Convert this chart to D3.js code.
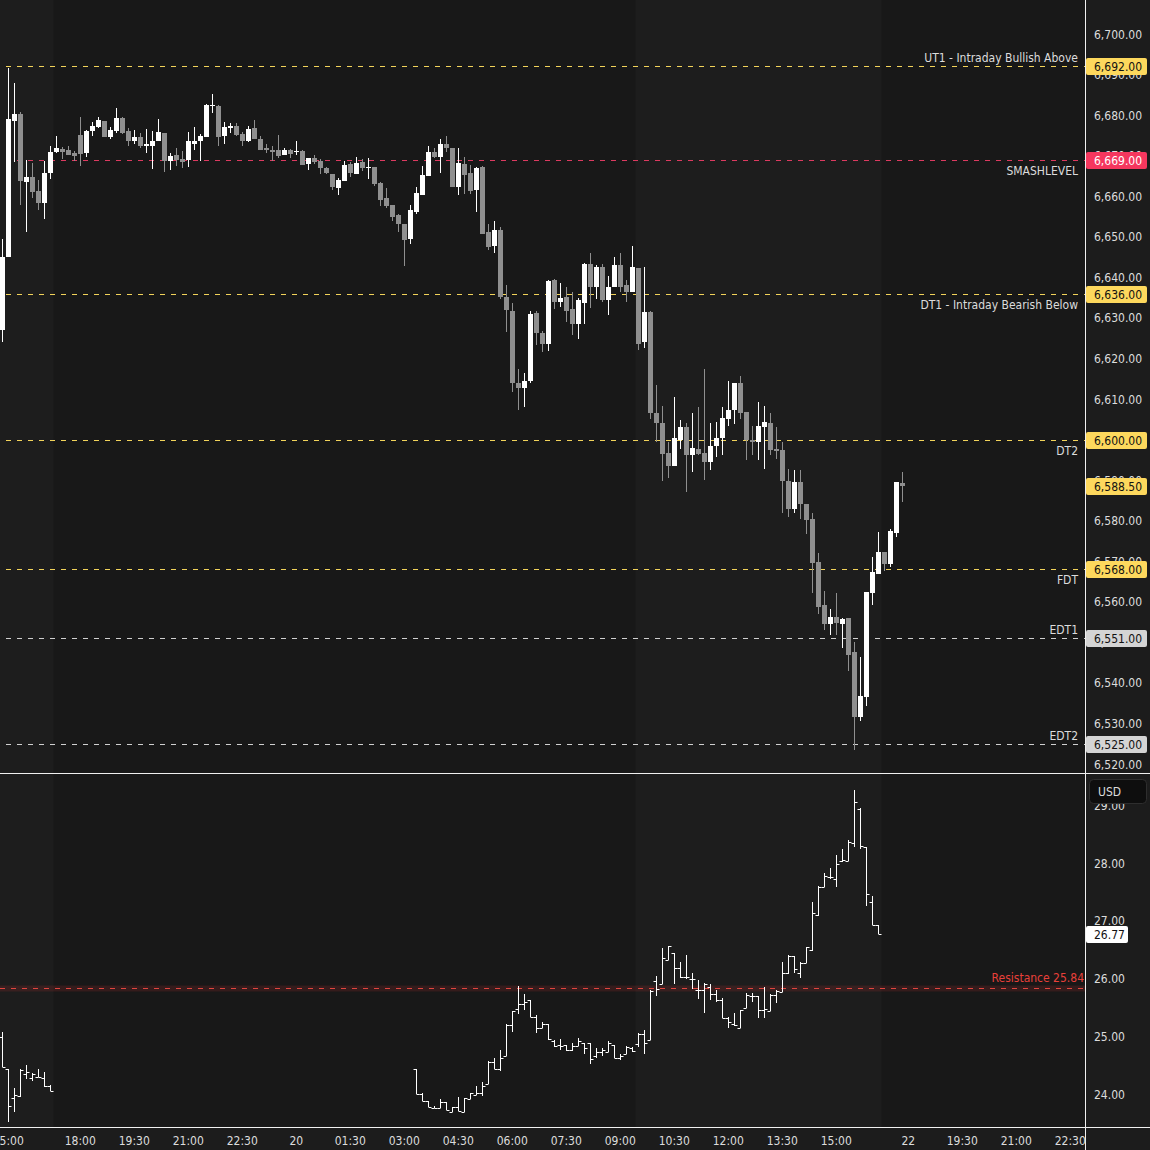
<!DOCTYPE html>
<html><head><meta charset="utf-8">
<script src="https://cdn.jsdelivr.net/npm/d3@7"></script>
<style>html,body{margin:0;padding:0;background:#1c1c1c;}svg{display:block;}</style>
</head><body>
<svg id="c" width="1150" height="1150"></svg>
<script>
// ---------- DATA ----------
const mainOpen=[6627,6645,6678.5,6680.25,6663.5,6664.75,6661.25,6658.25,6665.75,6671,6671.75,6671.5,6670.75,6675,6670.75,6676,6677,6678.5,6674.5,6676,6679.25,6676,6673.5,6674.5,6672.5,6672.5,6673.5,6675.5,6668.75,6670.25,6669.25,6669,6673,6673.5,6674.5,6682.25,6682.25,6674.75,6676.75,6677.25,6675.25,6673.5,6676.75,6674,6672,6671.5,6671.5,6670.25,6671.5,6671,6671.25,6668,6669.5,6668.75,6667,6665.5,6662,6663.75,6668,6665.5,6668.5,6667,6667.25,6663.25,6659.5,6657.75,6655.25,6653.25,6649.5,6656,6660.25,6665,6671,6669.75,6673,6672,6662.25,6668,6665.75,6661.5,6667.25,6651.25,6647.75,6651.75,6635.25,6631.75,6614,6612.75,6614.5,6631.25,6626.25,6623.5,6639.25,6634,6635.25,6632.25,6628.5,6633.75,6643.25,6637.5,6642.5,6634.5,6637.5,6643,6638,6636.5,6642.25,6624,6631.5,6606.5,6604,6596.75,6593.5,6600,6603,6596.25,6597.75,6596.75,6594.5,6598.5,6600.5,6605,6607.25,6614,6606.75,6600,6599.5,6603,6604,6597.75,6597.5,6589.75,6583,6589.5,6584,6580.5,6569.75,6559.25,6554.5,6556.25,6554.5,6556,6547.5,6531.5,6536.5,6562.25,6566.75,6572.25,6569.25,6577,6589.25];
const mainHigh=[6649.5,6691.5,6688,6680.75,6669,6668.25,6664,6668.75,6672.5,6674.75,6672.25,6672.5,6671.25,6679.5,6676.25,6678.25,6679.5,6678.5,6677,6681.75,6679.5,6676.75,6676.25,6675.5,6676.5,6676,6679,6675.5,6670.75,6672,6671.25,6675.75,6677,6675.25,6682.75,6685.25,6682.5,6678.25,6678,6678,6675.75,6677.25,6678.75,6674.75,6673,6672.5,6675,6672,6671.75,6673.5,6671.5,6669.5,6670.25,6669.25,6667.25,6665.5,6664.5,6668.75,6668.5,6669.75,6669.25,6669.5,6667.25,6663.5,6662,6657.75,6655.5,6653.25,6657.75,6662.25,6667.5,6672.5,6672,6674,6674.75,6672,6672,6669.75,6667.75,6667.25,6667.5,6653.25,6654,6652.5,6638,6633.75,6617.5,6616.5,6631.75,6631.75,6626.75,6639.25,6639.5,6638.5,6637.5,6636.5,6635,6643.5,6646,6643,6643.25,6640.25,6645,6646,6639.25,6647.75,6642.25,6642.5,6631.75,6613.5,6608.25,6599.5,6610.5,6604.75,6604,6606.5,6608,6617.5,6604,6604.25,6608,6614.5,6614,6615.75,6606.75,6603.25,6609.25,6608.25,6606.5,6603,6599.5,6592.75,6592.5,6592.5,6584,6582,6572,6562.75,6558.25,6562.25,6556,6556,6550,6546.5,6562.5,6571,6577.25,6572.25,6578,6589.5,6592];
const mainLow=[6624,6645,6668.5,6657.75,6651.25,6659.5,6656.5,6654.5,6664.25,6670.75,6669.25,6670.25,6668.75,6667.5,6669.75,6674.75,6676.75,6674.5,6674,6675.5,6675.25,6672.5,6673,6672,6670.75,6666.75,6673.5,6666,6666.5,6667.5,6667,6667.25,6671.5,6668.75,6674.5,6680.5,6672.5,6673,6675.5,6674.75,6672.5,6673.25,6674,6671.5,6670.75,6668.75,6669.5,6670.25,6669.5,6670.25,6667.75,6666.5,6668,6665.5,6665.5,6661.5,6660.25,6663.75,6664.75,6665.5,6666.25,6664.25,6662.5,6657.5,6657,6654,6651.25,6642.75,6648.25,6655.5,6660.25,6665,6669.5,6665.75,6671,6662.25,6660.25,6660.5,6660.5,6656,6650.75,6646.75,6646,6634.75,6626.5,6611.75,6607.25,6608,6614,6623.25,6621.5,6621.75,6632.25,6632.75,6629,6625.75,6624.75,6628.5,6632.5,6634.75,6634,6630.75,6637.5,6636.5,6634,6636.5,6622,6622.5,6605,6599.5,6589.75,6590.5,6593.5,6597.75,6587,6592,6596.25,6590,6592.5,6595.75,6596.25,6603.25,6603.75,6605,6595,6596.25,6595,6592.75,6596.25,6595.25,6582,6581,6582,6580.5,6576.75,6562.25,6557,6553,6551.75,6551.75,6548.5,6543,6523.5,6530.5,6534.25,6559.25,6566.75,6567.5,6568.5,6576,6584.5];
const mainClose=[6645,6679,6680.25,6663.75,6664.75,6661,6658.25,6665.75,6671,6672,6671,6670.25,6670,6670.5,6676,6677.25,6678.75,6674.5,6676.25,6679.25,6675.5,6673.5,6674.5,6672.5,6673,6673.5,6675.75,6668.75,6670,6669,6668.5,6673.5,6673.5,6674.75,6682.5,6682.5,6674.5,6677,6677.25,6675,6673.5,6676.5,6674,6671.5,6671.5,6671,6670,6671.5,6670.5,6671.25,6667.75,6669.5,6668.5,6667,6665.75,6662.25,6664,6667.75,6665.75,6668.25,6667,6667.25,6663,6659,6657.5,6655,6653.25,6649.25,6656.5,6660.75,6665.25,6671,6669.75,6673,6672,6662.25,6668.25,6665.25,6661.25,6667,6650.75,6647.5,6651.75,6635.25,6632,6614,6612.75,6614.5,6631,6626.25,6623.5,6639,6634,6635,6631.75,6628.5,6634.5,6643.25,6637.5,6642.5,6634.5,6637.5,6643,6637.5,6636.5,6642.5,6623.5,6631.5,6606.5,6604,6596.5,6593.5,6600.5,6603,6596.25,6598,6596.5,6594.5,6598.5,6600.5,6605.25,6607.25,6614,6606.5,6600,6599.5,6603.25,6604.25,6597.5,6597.25,6589.75,6583,6589.5,6584,6580.25,6569.5,6558.75,6554.5,6556.25,6554.75,6555.75,6547,6531.5,6536.75,6562.5,6567.25,6572.25,6569.25,6577.5,6589.5,6588.5];

const vixOpen=[24.98,24.44,23.93,23.96,24.35,24.27,24.29,24.27,24.14, 24.44,24.00,23.88,23.76,23.76,23.86,23.68,23.78,23.68,23.91,23.98,24.01,24.17,24.56,24.44,24.65,25.19,25.47,25.56,25.62,25.34,25.14,25.22,24.92,24.85,24.84,24.76,24.83,24.88,24.89,24.65,24.73,24.72,24.85,24.63,24.70,24.80,24.86,25.04,24.93,25.96,25.90,26.32,26.45,26.19,26.02,25.99,25.80,25.80,25.86,25.74,25.63,25.32,25.22,25.15,25.49,25.69,25.69,25.45,25.44,25.72,25.76,26.10,26.39,26.10,26.27,26.49,27.10,27.59,27.76,27.72,28.04,28.03,28.35,28.93,28.27,27.33,26.93];
const vixHigh=[25.07,24.44,24.10,24.44,24.50,24.37,24.43,24.38,24.15, 24.44,24.01,23.88,23.79,23.91,23.86,23.78,23.94,23.93,24.01,24.14,24.20,24.57,24.63,24.77,25.21,25.44,25.87,25.73,25.63,25.36,25.25,25.22,24.93,24.96,24.85,24.89,24.97,24.88,24.89,24.80,24.80,24.92,24.85,24.69,24.83,24.82,25.05,25.11,25.80,26.04,26.53,26.57,26.45,26.29,26.41,26.10,25.97,25.93,25.90,25.80,25.66,25.34,25.41,25.45,25.75,25.75,25.69,25.86,25.73,25.80,26.29,26.41,26.39,26.29,26.55,27.32,27.60,27.83,27.91,28.14,28.25,28.40,29.26,28.96,28.28,27.43,26.93];
const vixLow=[24.47,23.52,23.69,23.95,24.26,24.23,24.29,24.12,24.05, 24.00,23.88,23.78,23.75,23.75,23.72,23.68,23.71,23.68,23.91,23.98,23.96,24.17,24.44,24.39,24.65,25.08,25.38,25.46,25.34,25.05,25.14,24.94,24.82,24.76,24.75,24.74,24.83,24.69,24.52,24.63,24.65,24.72,24.63,24.59,24.70,24.73,24.82,24.70,24.93,25.70,25.90,26.32,25.90,26.01,26.00,25.81,25.64,25.40,25.63,25.60,25.31,25.15,25.17,25.14,25.49,25.60,25.32,25.31,25.44,25.58,25.76,26.07,26.09,26.01,26.27,26.48,27.09,27.59,27.73,27.58,28.02,28.03,28.27,28.25,27.26,26.92,26.77];
const vixClose=[24.47,23.80,23.98,24.42,24.38,24.34,24.29,24.13,24.05, 24.00,23.88,23.78,23.76,23.86,23.72,23.78,23.71,23.93,24.01,24.01,24.14,24.56,24.44,24.63,25.20,25.44,25.56,25.60,25.34,25.14,25.22,24.96,24.83,24.83,24.76,24.83,24.91,24.79,24.60,24.72,24.76,24.88,24.63,24.65,24.82,24.75,25.04,24.88,25.79,25.81,26.35,26.56,26.19,26.02,26.03,25.99,25.80,25.90,25.74,25.63,25.32,25.25,25.20,25.45,25.71,25.70,25.45,25.48,25.72,25.79,26.10,26.39,26.16,26.27,26.55,27.14,27.59,27.77,27.76,27.99,28.05,28.37,29.06,28.30,27.46,26.93,26.77];
const vixSessions=[[0,8],[69,146]];   // bar index ranges with VIX data

const levelNames=["UT1 - Intraday Bullish Above","SMASHLEVEL","DT1 - Intraday Bearish Below","DT2","FDT","EDT1","EDT2"];
const levelValues=[6692,6669,6636,6600,6568,6551,6525];
const lastPrice=6588.50;
const vixResistance=25.84;
const vixLast=26.77;

const mainTicks=[6520,6530,6540,6550,6560,6570,6580,6590,6600,6610,6620,6630,6640,6650,6660,6670,6680,6690,6700];
const vixTicks=[24,25,26,27,28,29];
const timeLabels=["15:00","18:00","19:30","21:00","22:30","20","01:30","03:00","04:30","06:00","07:30","09:00","10:30","12:00","13:30","15:00","22","19:30","21:00","22:30"];
const timeLabelIdx=[1,13,22,31,40,49,58,67,76,85,94,103,112,121,130,139,151,160,169,178];
const sessionBands=[[0,8],[106,146]];

// ---------- STYLE ----------
const FONT='"DejaVu Sans Condensed","DejaVu Sans",sans-serif';
const TXT='#dcdcdc';
const YEL='#f2d35a', YELTAG='#fdd85d';
const levelStyle={
 "UT1 - Intraday Bullish Above":{line:YEL,tag:YELTAG,fg:'#111',pos:'above'},
 "SMASHLEVEL":{line:'#dc3a60',tag:'#f5375e',fg:'#fff',pos:'below'},
 "DT1 - Intraday Bearish Below":{line:YEL,tag:YELTAG,fg:'#111',pos:'below'},
 "DT2":{line:YEL,tag:YELTAG,fg:'#111',pos:'below'},
 "FDT":{line:YEL,tag:YELTAG,fg:'#111',pos:'below'},
 "EDT1":{line:'#d0d0d0',tag:'#d4d4d4',fg:'#111',pos:'above'},
 "EDT2":{line:'#d0d0d0',tag:'#d4d4d4',fg:'#111',pos:'above'}
};

// ---------- LAYOUT ----------
const W=1150,H=1150, plotR=1085, mainTop=0, mainBot=773, vixTop=774, vixBot=1127;
const svg=d3.select('#c');
const x=d3.scaleLinear().domain([0,150]).range([2.3,902.3]);
const yM=d3.scaleLinear().domain([6520,6700]).range([764,34]);
const yV=d3.scaleLinear().domain([24,28]).range([1094,863]);
const fmt=d3.format(",.2f");
const left=i=>Math.round(x(i)-2.5);

svg.append('rect').attr('width',W).attr('height',H).attr('fill','#1c1c1c');
svg.append('rect').attr('x',0).attr('y',mainTop).attr('width',plotR).attr('height',mainBot-mainTop).attr('fill','#181818');
svg.append('rect').attr('x',0).attr('y',vixTop).attr('width',plotR).attr('height',vixBot-vixTop).attr('fill','#181818');
[[mainTop,mainBot],[vixTop,vixBot]].forEach(([t,b])=>{
  svg.append('g').selectAll('rect').data(sessionBands).join('rect')
   .attr('x',d=>Math.max(0,left(d[0])-0.5)).attr('y',t)
   .attr('width',d=>left(d[1])+5.5-Math.max(0,left(d[0])-0.5)).attr('height',b-t)
   .attr('fill','#1d1d1d');
});

// level lines
const gl=svg.append('g');
levelNames.forEach((n,i)=>{
  const yy=Math.round(yM(levelValues[i]))+0.5, st=levelStyle[n];
  gl.append('line').attr('x1',6).attr('x2',plotR).attr('y1',yy).attr('y2',yy)
    .attr('stroke',st.line).attr('stroke-width',1).attr('stroke-dasharray','5,6');
  gl.append('text').attr('x',1078).attr('y',st.pos==='above'?yy-5:yy+14.5)
    .attr('text-anchor','end').attr('fill',TXT).attr('font-family',FONT).attr('font-size',12).text(n);
});

// candles
const idx=d3.range(mainOpen.length);
const gc=svg.append('g');
const col=i=>mainClose[i]>=mainOpen[i]?'#ffffff':'#8f8f8f';
gc.selectAll('line').data(idx).join('line')
  .attr('x1',i=>left(i)+2.5).attr('x2',i=>left(i)+2.5)
  .attr('y1',i=>Math.round(yM(mainHigh[i]))).attr('y2',i=>Math.round(yM(mainLow[i])))
  .attr('stroke',col).attr('stroke-width',1);
gc.selectAll('rect').data(idx).join('rect')
  .attr('x',i=>left(i)).attr('width',5)
  .attr('y',i=>Math.round(yM(Math.max(mainOpen[i],mainClose[i]))))
  .attr('height',i=>Math.max(1,Math.round(yM(Math.min(mainOpen[i],mainClose[i])))-Math.round(yM(Math.max(mainOpen[i],mainClose[i])))))
  .attr('fill',col);

// VIX resistance
const yr=Math.round(yV(vixResistance))+0.5;
svg.append('rect').attr('x',0).attr('y',yr-3).attr('width',plotR).attr('height',6).attr('fill','rgba(190,50,50,0.18)');
svg.append('line').attr('x1',0).attr('x2',plotR).attr('y1',yr).attr('y2',yr)
  .attr('stroke','#e0453f').attr('stroke-width',1).attr('stroke-dasharray','5,6');
svg.append('text').attr('x',1084).attr('y',yr-7).attr('text-anchor','end').attr('fill','#e8403a')
  .attr('font-family',FONT).attr('font-size',12).text('Resistance '+vixResistance.toFixed(2));

// VIX bars
const vixIdx=[].concat(...vixSessions.map(s=>d3.range(s[0],s[1]+1)));
const gv=svg.append('g').attr('stroke','#ffffff').attr('stroke-width',1);
vixIdx.forEach((k,j)=>{
  const cx=left(k)+2.5;
  gv.append('line').attr('x1',cx).attr('x2',cx).attr('y1',Math.round(yV(vixHigh[j]))).attr('y2',Math.round(yV(vixLow[j])));
  const yo=Math.round(yV(vixOpen[j]))+0.5, yc=Math.round(yV(vixClose[j]))+0.5;
  gv.append('line').attr('x1',cx-3).attr('x2',cx).attr('y1',yo).attr('y2',yo);
  gv.append('line').attr('x1',cx).attr('x2',cx+3).attr('y1',yc).attr('y2',yc);
});

// axes lines
svg.append('line').attr('x1',0).attr('x2',W).attr('y1',773.5).attr('y2',773.5).attr('stroke','#f0f0f0');
svg.append('line').attr('x1',0).attr('x2',W).attr('y1',1127.5).attr('y2',1127.5).attr('stroke','#f0f0f0');
svg.append('line').attr('x1',1085.5).attr('x2',1085.5).attr('y1',0).attr('y2',H).attr('stroke','#f0f0f0');

// price axis ticks
svg.append('g').selectAll('text').data(mainTicks).join('text')
  .attr('x',1094).attr('y',d=>yM(d)+4.5).attr('fill',TXT).attr('font-family',FONT).attr('font-size',12).text(d=>fmt(d));
svg.append('g').selectAll('text').data(vixTicks).join('text')
  .attr('x',1094).attr('y',d=>yV(d)+4.5).attr('fill',TXT).attr('font-family',FONT).attr('font-size',12).text(d=>fmt(d));

// tags
function tag(yv,txt,bg,fg,w){
  const yy=Math.round(yv);
  svg.append('rect').attr('x',1086).attr('y',yy-8).attr('width',w).attr('height',17).attr('rx',2).attr('fill',bg);
  svg.append('text').attr('x',1094).attr('y',yy+4.5).attr('fill',fg).attr('font-family',FONT).attr('font-size',12).text(txt);
}
levelNames.forEach((n,i)=>{const st=levelStyle[n]; tag(yM(levelValues[i]),fmt(levelValues[i]),st.tag,st.fg,61);});
tag(yM(lastPrice),fmt(lastPrice),YELTAG,'#111',61);
tag(yV(vixLast),vixLast.toFixed(2),'#ffffff','#111',42);

// USD box
svg.append('rect').attr('x',1089.5).attr('y',779.5).attr('width',57).attr('height',24).attr('rx',4)
  .attr('fill','#0e0e0e').attr('stroke','#2e2e2e');
svg.append('text').attr('x',1098).attr('y',796).attr('fill',TXT).attr('font-family',FONT).attr('font-size',12).text('USD');

// time axis
svg.append('g').selectAll('text').data(timeLabels).join('text')
  .attr('x',(d,i)=>x(timeLabelIdx[i])).attr('y',1145).attr('text-anchor','middle')
  .attr('fill',TXT).attr('font-family',FONT).attr('font-size',12).text(d=>d);
</script>
</body></html>
